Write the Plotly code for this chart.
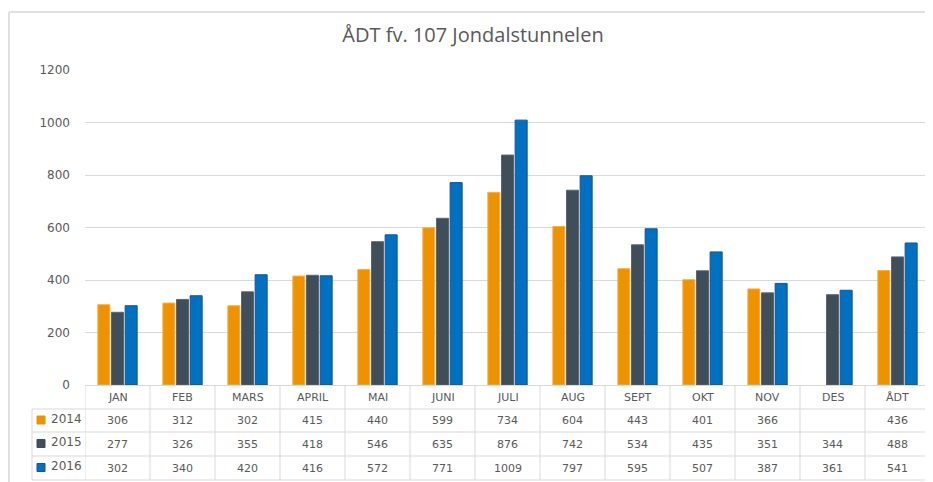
import plotly.graph_objects as go

categories = ["JAN", "FEB", "MARS", "APRIL", "MAI", "JUNI", "JULI", "AUG", "SEPT", "OKT", "NOV", "DES", "ÅDT"]
years = ["2014", "2015", "2016"]
v2014 = [306, 312, 302, 415, 440, 599, 734, 604, 443, 401, 366, None, 436]
v2015 = [277, 326, 355, 418, 546, 635, 876, 742, 534, 435, 351, 344, 488]
v2016 = [302, 340, 420, 416, 572, 771, 1009, 797, 595, 507, 387, 361, 541]
y_ticks = [0, 200, 400, 600, 800, 1000, 1200]

fill_colors = ["#EE9200", "#3F4E59", "#0070C0"]
line_colors = ["#F5B04A", "#5A6670", "#1D4F91"]
series = [v2014, v2015, v2016]

# page has an 8px body margin; the figure is sized to fit the 933x482 window
OFF = 8
W, H = 933 - OFF, 482 - OFF
ML, MR = 85 - OFF, 3
MT = 70 - OFF
MB = H - (385 - OFF)
PW = W - ML - MR
PH = H - MT - MB

def px_x(px):
    return (px - OFF - ML) / PW

def px_y(py):
    return (H - MB - (py - OFF)) / PH

fig = go.Figure()
for name, vals, fc, lc in zip(years, series, fill_colors, line_colors):
    fig.add_trace(go.Bar(
        x=categories, y=vals, name=name,
        marker=dict(color=fc, line=dict(color=lc, width=1)),
        showlegend=False, hoverinfo="x+y+name",
    ))

grid_c = "#D9D9D9"
text_c = "#595959"
tfont = dict(family="DejaVu Sans, Verdana, sans-serif", size=11, color=text_c)

shapes = []
annotations = []

row_lines = [409, 432, 456, 480]
row_centers = [420.5, 444, 468]
table_left = 32

for ry in row_lines:
    shapes.append(dict(type="line", xref="paper", yref="paper",
                       x0=px_x(table_left), x1=1, y0=px_y(ry), y1=px_y(ry),
                       line=dict(color=grid_c, width=1)))
for k in range(len(categories) + 1):
    shapes.append(dict(type="line", xref="x", yref="paper",
                       x0=k - 0.5, x1=k - 0.5, y0=0, y1=px_y(row_lines[-1]),
                       line=dict(color=grid_c, width=1)))
shapes.append(dict(type="line", xref="paper", yref="paper",
                   x0=px_x(table_left), x1=px_x(table_left),
                   y0=px_y(row_lines[0]), y1=px_y(row_lines[-1]),
                   line=dict(color=grid_c, width=1)))

# outer chart frame (top and left)
shapes.append(dict(type="line", xref="paper", yref="paper",
                   x0=px_x(9), x1=px_x(940), y0=px_y(12), y1=px_y(12),
                   line=dict(color="#E0E0E0", width=2)))
shapes.append(dict(type="line", xref="paper", yref="paper",
                   x0=px_x(9), x1=px_x(9), y0=px_y(12), y1=px_y(490),
                   line=dict(color="#E0E0E0", width=2)))

for i, c in enumerate(categories):
    annotations.append(dict(x=i, y=px_y(397), xref="x", yref="paper",
                            text=c, showarrow=False, font=tfont,
                            xanchor="center", yanchor="middle"))

for r, (name, vals, fc, lc) in enumerate(zip(years, series, fill_colors, line_colors)):
    cy = row_centers[r]
    for i, v in enumerate(vals):
        if v is None:
            continue
        annotations.append(dict(x=i, y=px_y(cy), xref="x", yref="paper",
                                text=str(v), showarrow=False, font=tfont,
                                xanchor="center", yanchor="middle"))
    shapes.append(dict(type="rect", xref="paper", yref="paper",
                       x0=px_x(37), x1=px_x(45), y0=px_y(cy + 3.5), y1=px_y(cy - 4.5),
                       fillcolor=fc, line=dict(color=lc if r == 2 else fc, width=1)))
    annotations.append(dict(x=px_x(49), y=px_y(cy - 2), xref="paper", yref="paper",
                            text=name, showarrow=False,
                            font=dict(family="DejaVu Sans, Verdana, sans-serif", size=12, color=text_c),
                            xanchor="left", yanchor="middle"))

fig.update_layout(
    width=W, height=H,
    margin=dict(l=ML, r=MR, t=MT, b=MB),
    paper_bgcolor="white", plot_bgcolor="white",
    title=dict(text="ÅDT fv. 107 Jondalstunnelen", x=(473 - OFF) / W, xanchor="center",
               y=1 - (35 - OFF) / H, yanchor="middle",
               font=dict(family="Open Sans, Lato, sans-serif", size=20, color=text_c)),
    barmode="group", bargap=0.37, bargroupgap=0.12,
    xaxis=dict(type="category", showticklabels=False, showgrid=False,
               showline=True, linecolor=grid_c, linewidth=1, ticks="",
               range=[-0.5, len(categories) - 0.5]),
    yaxis=dict(range=[0, 1200], tickvals=y_ticks, showgrid=True, gridcolor=grid_c,
               gridwidth=1, zeroline=False, showline=False, ticks="",
               ticklabelstandoff=14,
               tickfont=dict(family="DejaVu Sans, Verdana, sans-serif", size=12, color=text_c)),
    shapes=shapes, annotations=annotations,
)

fig.write_html("out.html")
